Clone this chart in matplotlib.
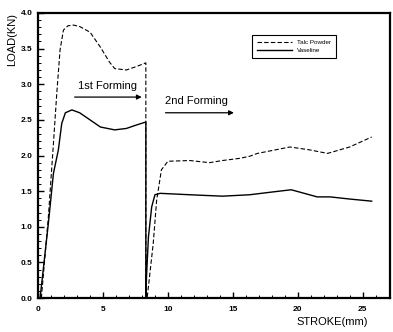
import numpy as np
import matplotlib.pyplot as plt

plt.rcParams.update({
    'font.family': ['Liberation Sans', 'DejaVu Sans'],
    'axes.linewidth': 1.6,
})

# Talc powder (dashed) - first and second forming
talc_x = [0.25, 0.79, 1.18, 1.44, 1.69, 1.95, 2.3, 2.72, 3.2, 4.0, 4.8, 5.5, 5.9, 6.8, 7.6, 8.3,
          8.3, 8.4, 8.87, 9.13, 9.5, 10.0, 11.7, 13.2, 14.2, 15.5, 16.3, 16.9, 19.4, 20.9,
          22.3, 24.0, 25.7]
talc_y = [0.0, 1.14, 2.17, 2.88, 3.48, 3.76, 3.82, 3.83, 3.81, 3.73, 3.52, 3.31, 3.22, 3.2, 3.25, 3.3,
          0.0, 0.0, 0.77, 1.37, 1.8, 1.92, 1.93, 1.9, 1.93, 1.96, 1.99, 2.03, 2.12, 2.08,
          2.03, 2.12, 2.26]

# Vaseline (solid)
vas_x = [0.15, 0.79, 1.18, 1.56, 1.82, 2.1, 2.6, 3.2, 4.0, 4.8, 5.9, 6.8, 7.6, 8.3,
         8.3, 8.35, 8.5, 8.75, 9.0, 9.4, 11.7, 14.2, 16.3, 18.1, 19.5, 20.7, 21.5, 22.5, 24.0, 25.7]
vas_y = [0.0, 1.05, 1.75, 2.08, 2.45, 2.6, 2.64, 2.6, 2.5, 2.4, 2.36, 2.38, 2.43, 2.47,
         0.0, 0.3, 0.86, 1.28, 1.45, 1.47, 1.45, 1.43, 1.45, 1.49, 1.52, 1.46, 1.42, 1.42, 1.39, 1.36]

x_ticks = [0, 5, 10, 15, 20, 25]
y_ticks = [0.0, 0.5, 1.0, 1.5, 2.0, 2.5, 3.0, 3.5, 4.0]

fig = plt.figure(figsize=(3.93, 3.32), dpi=100)
ax = fig.add_axes([0.097, 0.102, 0.895, 0.859])

ax.plot(talc_x, talc_y, color='black', lw=0.8, ls=(0, (4, 2)), label='Talc Powder')
ax.plot(vas_x, vas_y, color='black', lw=1.0, label='Vaseline')

ax.set_xlim(0, 27.1)
ax.set_ylim(0, 4.0)
ax.set_xticks(x_ticks)
ax.set_yticks(y_ticks)
ax.set_yticklabels([f'{v:.1f}' for v in y_ticks])
ax.set_xticks(np.arange(0, 27.1, 1), minor=True)
ax.set_yticks(np.arange(0, 4.01, 0.1), minor=True)
ax.tick_params(which='major', direction='in', length=4, width=1.0, labelsize=6, pad=4)
ax.tick_params(axis='x', which='major', pad=6)
ax.tick_params(which='minor', direction='in', length=2, width=0.7)
for lab in ax.get_xticklabels() + ax.get_yticklabels():
    lab.set_fontweight('bold')

# forming annotations
ax.annotate('', xy=(8.2, 2.82), xytext=(2.6, 2.82),
            arrowprops=dict(arrowstyle='-|>', color='black', lw=0.9, mutation_scale=7))
ax.text(3.1, 2.97, '1st Forming', fontsize=8, va='center', ha='left')
ax.annotate('', xy=(15.3, 2.6), xytext=(9.6, 2.6),
            arrowprops=dict(arrowstyle='-|>', color='black', lw=0.9, mutation_scale=7))
ax.text(9.8, 2.77, '2nd Forming', fontsize=8, va='center', ha='left')

leg = ax.legend(loc='upper left', bbox_to_anchor=(0.60, 0.935), fontsize=4.5,
                handlelength=5.5, fancybox=False, edgecolor='black', framealpha=1,
                borderpad=0.8, labelspacing=0.5)
leg.get_frame().set_linewidth(0.8)

fig.text(0.03, 0.88, 'LOAD(KN)', rotation=90, fontsize=8, ha='center', va='center')
fig.text(0.845, 0.03, 'STROKE(mm)', fontsize=8, ha='center', va='center')

fig.savefig('out.png', dpi=100)
